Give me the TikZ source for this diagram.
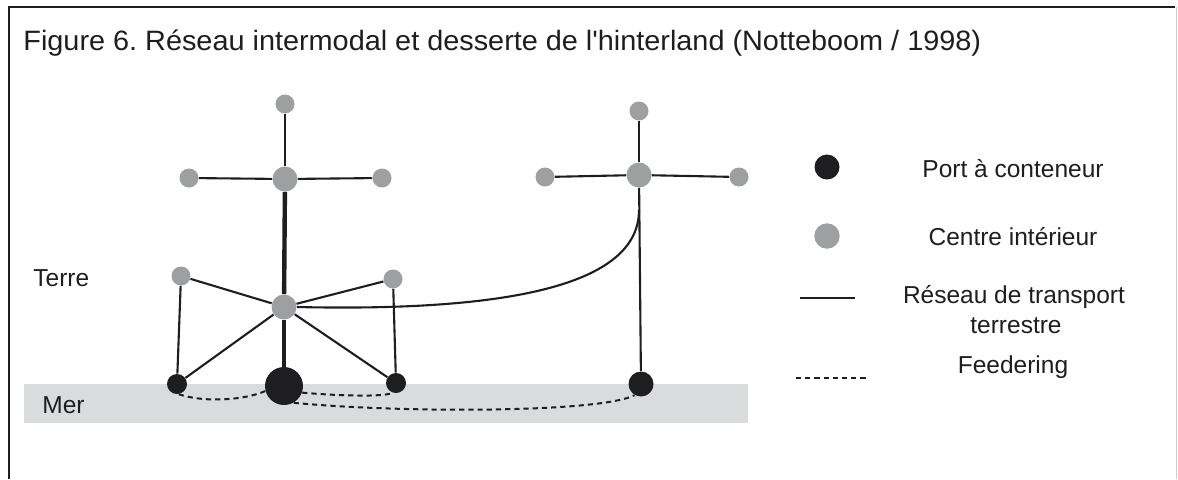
\documentclass[tikz,border=0pt]{standalone}
\usepackage{fontspec}
\setmainfont{Liberation Sans}
\definecolor{ngray}{RGB}{158,159,161}
\definecolor{sea}{RGB}{218,219,221}
\definecolor{ink}{RGB}{30,29,31}
\definecolor{edgegray}{RGB}{205,205,205}
\tikzset{
  inner/.style={circle, fill=ngray, inner sep=0pt, minimum size=9.5pt},
  hubnode/.style={circle, fill=ngray, inner sep=0pt, minimum size=12.5pt},
  port/.style={circle, fill=ink, inner sep=0pt, minimum size=10pt},
  bigport/.style={circle, fill=ink, inner sep=0pt, minimum size=19pt},
  midport/.style={circle, fill=ink, inner sep=0pt, minimum size=12.5pt},
  land/.style={draw=ink, line width=1.05pt},
  landthick/.style={draw=ink, line width=2.2pt},
  feed/.style={draw=ink, line width=1pt, dash pattern=on 2.6pt off 2pt},
  lbl/.style={font=\fontsize{12.25pt}{14.5pt}\selectfont, text=ink, inner sep=0pt},
}
\begin{document}
\begin{tikzpicture}[x=0.5pt, y=-0.5pt]
\useasboundingbox (0,0) rectangle (1178,479);
% frame
\draw[ink, line width=1pt] (9,479) -- (9,7) -- (1175,7);
\draw[edgegray, line width=0.5pt] (1176,7) -- (1176,479);
% title
\node[lbl, anchor=base west, font=\fontsize{14pt}{16pt}\selectfont, xscale=1.03] (title) at (23,50) {Figure 6.\ Réseau intermodal et desserte de l\textquotesingle hinterland (Notteboom / 1998)};
% sea band
\fill[sea] (24,384) rectangle (748,423);
\node[lbl, anchor=base west] (mer) at (42,413) {Mer};
\node[lbl, anchor=base west] (terre) at (33,286) {Terre};
% left cluster nodes
\node[inner] (t1) at (285,104) {};
\node[hubnode] (c1) at (285,179) {};
\node[inner] (l1) at (189,178) {};
\node[inner] (r1) at (382,178) {};
\node[hubnode] (hub) at (284,307) {};
\node[inner] (gl) at (181,276) {};
\node[inner] (gr) at (393,279) {};
\node[port] (pL) at (177,384) {};
\node[bigport] (P) at (284,386) {};
\node[port] (pR) at (396,383) {};
% right cluster nodes
\node[inner] (t2) at (639,111) {};
\node[hubnode] (c2) at (639,175) {};
\node[inner] (l2) at (545,177) {};
\node[inner] (r2) at (739,177) {};
\node[midport] (pE) at (641,384) {};
\coordinate (j) at (639,210);
% feedering
\draw[feed] (pL.-80) .. controls (205,403) and (245,400) .. (P.195);
\draw[feed] (P.-20) .. controls (340,396) and (385,397) .. (pR.-110);
\draw[feed] (P.-60) .. controls (400,413) and (600,413) .. (pE.-120);
% land network
\draw[land] (t1) -- (c1);
\draw[land] (l1) -- (c1);
\draw[land] (c1) -- (r1);
\draw[landthick] (c1) -- (hub);
\draw[landthick] (hub) -- (P);
\draw[land] (gl) -- (hub);
\draw[land] (gr) -- (hub);
\draw[land] (hub) -- (pL);
\draw[land] (hub) -- (pR);
\draw[land] (gl) -- (pL);
\draw[land] (gr) -- (pR);
\draw[land] (t2) -- (c2);
\draw[land] (l2) -- (c2);
\draw[land] (c2) -- (r2);
\draw[land] (c2) -- (pE);
\draw[land] (hub.east) .. controls (520,312) and (639,282) .. (j);
% legend
\node[midport] (kport) at (827,167) {};
\node[hubnode, minimum size=12.7pt] (kinner) at (827,236) {};
\coordinate (ka) at (800,298);
\coordinate (kb) at (855,298);
\draw[land] (ka) -- (kb);
\coordinate (kc) at (796,378);
\coordinate (kd) at (867,378);
\draw[feed, line width=0.8pt] (kc) -- (kd);
\node[lbl, anchor=base] (tport) at (1013,177) {Port à conteneur};
\node[lbl, anchor=base] (tinner) at (1013,245) {Centre intérieur};
\node[lbl, anchor=base] (tland) at (1014,303) {Réseau de transport};
\node[lbl, anchor=base] (tland2) at (1016,333) {terrestre};
\node[lbl, anchor=base] (tfeed) at (1013,373) {Feedering};
\end{tikzpicture}
\end{document}
